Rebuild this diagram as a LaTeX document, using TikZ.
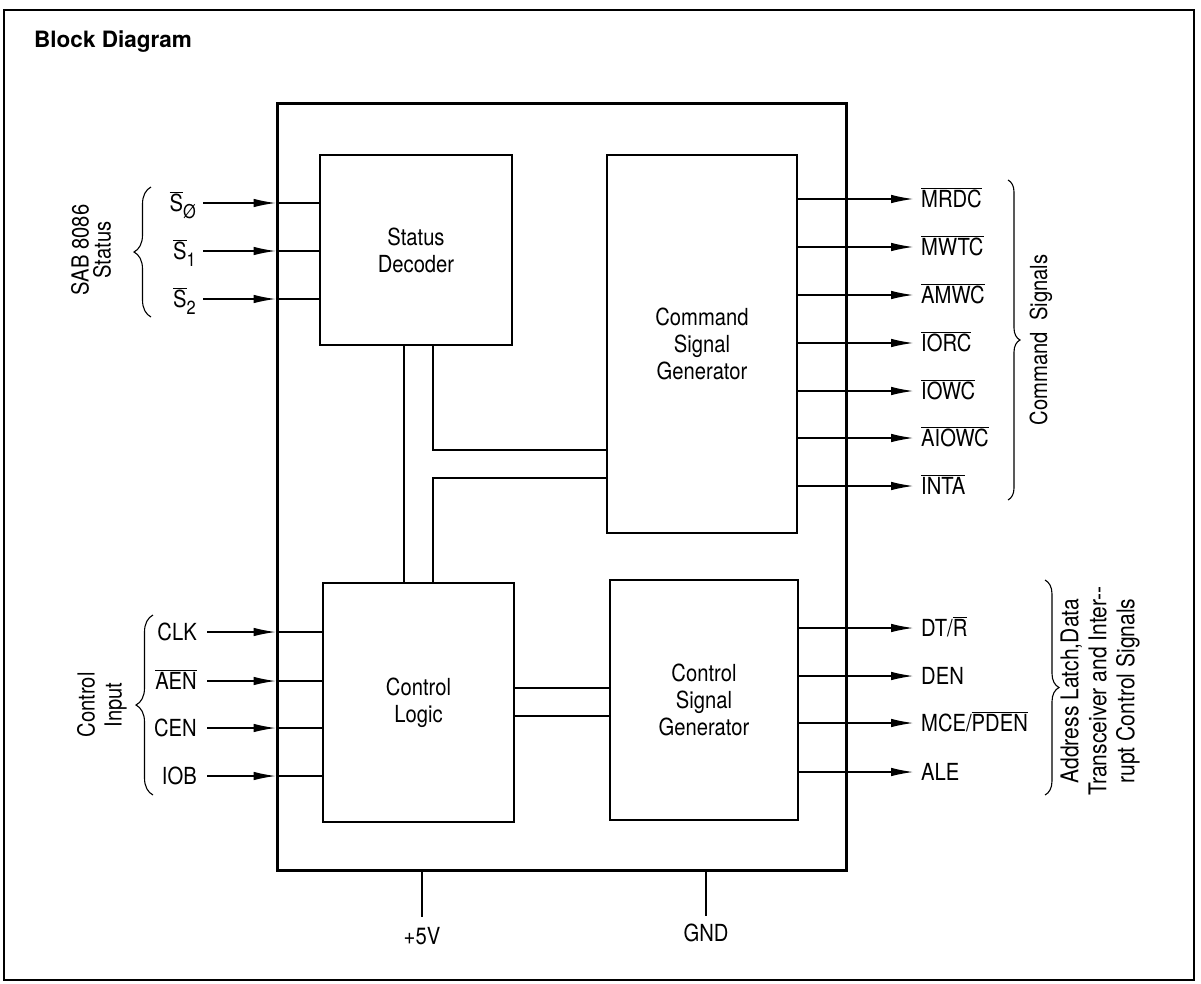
\documentclass[tikz,border=0pt]{standalone}
\usepackage{fontspec}
\setmainfont{TeX Gyre Heros}
\newfontfamily\narrowsf[FakeStretch=0.86]{TeX Gyre Heros}
\usetikzlibrary{arrows.meta,positioning,calc,decorations.pathreplacing}

\newcommand{\ovl}[1]{$\overline{\mbox{#1}}$}
\newcommand{\pinsub}[1]{\raisebox{-0.3em}{\fontsize{19}{19}\selectfont #1}}

\begin{document}
\begin{tikzpicture}[x=1pt, y=-1pt,
    every node/.style={font={\narrowsf\fontsize{23.5}{27}\selectfont}},
    chip/.style={rectangle, draw, line width=3pt},
    block/.style={rectangle, draw, line width=2pt, align=center},
    sig/.style={draw, line width=1.1pt},
    sigin/.style={sig, -{Latex[length=22pt, width=8.5pt]}},
    pinlabel/.style={inner sep=1pt},
    group/.style={draw, line width=1.1pt, decorate, decoration={brace, amplitude=#1}},
    group/.default=15pt,
    grouptext/.style={rotate=90, align=center, inner sep=0pt}
  ]
  \useasboundingbox (0,0) rectangle (1201,983);
  \draw[line width=2pt] (4,10) rectangle (1194,980);
  \node[anchor=base west, inner sep=0pt, font={\rmfamily\bfseries\fontsize{22.5}{26}\selectfont}] (title) at (34,47) {Block Diagram};

  % chip outline and inner blocks
  \node[chip, minimum width=569pt, minimum height=767pt] (chip) at (561.5,486.5) {};
  \node[block, minimum width=192pt, minimum height=190pt] (dec) at (416,250) {Status\\Decoder};
  \node[block, minimum width=190pt, minimum height=378pt] (cmd) at (702,344) {Command\\Signal\\Generator};
  \node[block, minimum width=191pt, minimum height=239pt] (logic) at (418.5,702.5) {Control\\Logic};
  \node[block, minimum width=188pt, minimum height=240pt] (ctrl) at (704,700) {Control\\Signal\\Generator};

  % internal bus
  \coordinate (busL) at (404,0);
  \coordinate (busR) at (433,0);
  \coordinate (busT) at (0,450);
  \coordinate (busB) at (0,478);
  \draw[sig] (dec.south -| busL) -- (logic.north -| busL);
  \draw[sig] (dec.south -| busR) |- (cmd.west |- busT);
  \draw[sig] (cmd.west |- busB) -| (logic.north -| busR);
  \draw[sig] (logic.east |- 0,688) -- (ctrl.west |- 0,688);
  \draw[sig] (logic.east |- 0,716) -- (ctrl.west |- 0,716);

  % status inputs
  \foreach \nm/\txt/\yy in {s0/{\ovl{S}\pinsub{Ø}}/203, s1/{\ovl{S}\pinsub{1}}/251, s2/{\ovl{S}\pinsub{2}}/299} {
    \coordinate (\nm) at (203,\yy);
    \node[pinlabel, anchor=base east] (\nm-lbl) at ($(\nm)+(-6,8)$) {\txt};
    \draw[sigin] (\nm) -- (chip.west |- \nm);
    \draw[sig] (chip.west |- \nm) -- (dec.west |- \nm);
  }
  % control inputs
  \foreach \nm/\txt/\yy in {clk/CLK/632, aen/{\ovl{AEN}}/681, cen/CEN/728, iob/IOB/776} {
    \coordinate (\nm) at (207,\yy);
    \node[pinlabel, anchor=base east] (\nm-lbl) at ($(\nm)+(-9,8)$) {\txt};
    \draw[sigin] (\nm) -- (chip.west |- \nm);
    \draw[sig] (chip.west |- \nm) -- (logic.west |- \nm);
  }
  % command outputs
  \foreach \nm/\txt/\yy in {mrdc/{\ovl{MRDC}}/199, mwtc/{\ovl{MWTC}}/247, amwc/{\ovl{AMWC}}/295, iorc/{\ovl{IORC}}/343, iowc/{\ovl{IOWC}}/391, aiowc/{\ovl{AIOWC}}/438, inta/{\ovl{INTA}}/486} {
    \coordinate (\nm) at (913,\yy);
    \draw[sigin] (cmd.east |- \nm) -- (\nm);
    \node[pinlabel, anchor=base west] (\nm-lbl) at ($(\nm)+(7,8)$) {\txt};
  }
  % control outputs
  \foreach \nm/\txt/\yy in {dtr/{DT/\ovl{R}}/628, den/DEN/676, mce/{MCE/\ovl{PDEN}}/723, ale/ALE/772} {
    \coordinate (\nm) at (913,\yy);
    \draw[sigin] (ctrl.east |- \nm) -- (\nm);
    \node[pinlabel, anchor=base west] (\nm-lbl) at ($(\nm)+(7,8)$) {\txt};
  }

  % groups
  \draw[group=17pt] (151,317) -- (151,187);
  \node[grouptext, font={\narrowsf\fontsize{23.5}{22}\selectfont}] (status) at (91,250) {SAB 8086\\Status};
  \draw[group=17pt] (153,795) -- (153,615);
  \node[grouptext] (ctrlin) at (102,705) {Control\\Input};
  \draw[group=12pt] (1008,180) -- (1008,500);
  \node[grouptext] (cmdsig) at (1041,340) {Command\ \ Signals};
  \draw[group=14pt] (1045,580) -- (1045,795);
  \node[grouptext, font={\narrowsf\fontsize{24.5}{28}\selectfont}] (addrsig) at (1100,691) {Address Latch,Data\\Transceiver and Inter-{}-\\rupt Control Signals};

  % supply pins
  \coordinate (vcc) at (422,917);
  \coordinate (gnd) at (706,916);
  \draw[sig] (chip.south -| vcc) -- (vcc);
  \draw[sig] (chip.south -| gnd) -- (gnd);
  \node[anchor=north, inner sep=0pt] (vcc-lbl) at ($(vcc)+(0,10)$) {+5V};
  \node[anchor=north, inner sep=0pt] (gnd-lbl) at ($(gnd)+(0,8)$) {GND};
\end{tikzpicture}
\end{document}
